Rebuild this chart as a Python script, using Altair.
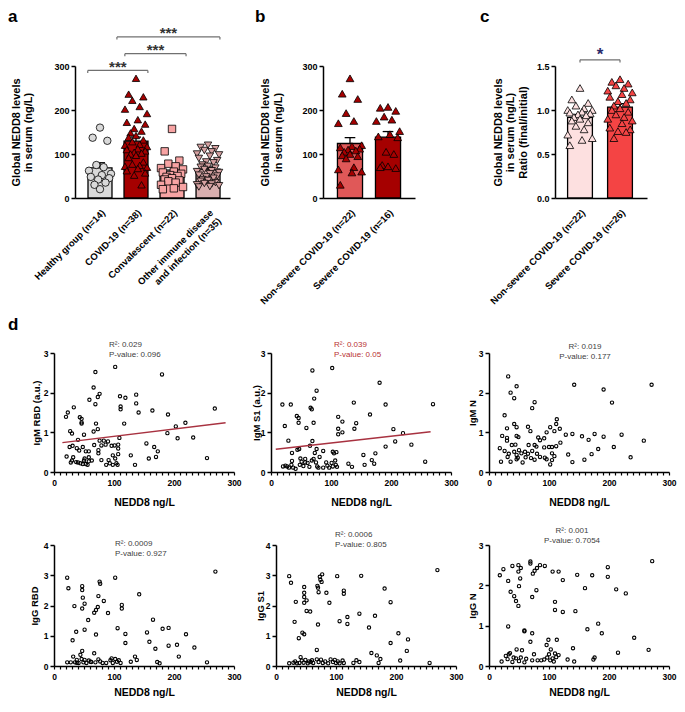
import json
import altair as alt
import pandas as pd

FONT = "Liberation Sans"

# ---------------- panel a : values (ng/L) ----------------
A_LABELS = ["Healthy group (n=14)", "COVID-19 (n=38)", "Convalescent (n=22)",
            ["Other immune disease", "and infection (n=35)"]]
A_HEALTHY = [160, 137, 130, 75, 70, 62, 55, 52, 48, 45, 42, 35, 30, 20]
A_COVID = [272, 236, 230, 222, 208, 202, 192, 178, 172, 168, 158, 152, 148, 142, 138, 132,
           128, 122, 120, 117, 112, 110, 107, 104, 102, 100, 97, 92, 82, 77, 74, 72, 70, 67,
           62, 57, 52, 30]
A_CONV = [157, 106, 85, 78, 72, 68, 65, 60, 58, 55, 52, 50, 48, 45, 42, 40, 38, 35, 30, 25, 22, 20]
A_OTHER = [120, 115, 112, 108, 105, 100, 98, 95, 90, 85, 82, 80, 75, 72, 70, 68, 65, 62, 60, 58,
           55, 52, 50, 48, 45, 42, 40, 38, 35, 33, 32, 30, 28, 26, 25]
# significance brackets: (from, to, level, label)
A_SIG = [(-0.34, 1.33, 290, "***"), (0.69, 2.39, 328, "***"), (0.47, 3.33, 366, "***")]

# ---------------- panel b ----------------
B_LABELS = ["Non-severe COVID-19 (n=22)", "Severe COVID-19 (n=16)"]
B_NONSEVERE = [272, 237, 225, 193, 175, 170, 120, 118, 115, 112, 110, 108, 105, 100, 97, 95,
               90, 70, 65, 60, 58, 30]
B_SEVERE = [207, 205, 198, 185, 178, 175, 152, 145, 140, 138, 105, 100, 75, 72, 70, 68]

# ---------------- panel c (ratio final/initial) ----------------
C_LABELS = ["Non-severe COVID-19 (n=22)", "Severe COVID-19 (n=26)"]
C_NONSEVERE = [1.25, 1.12, 1.08, 1.05, 1.02, 1.0, 1.0, 0.98, 0.97, 0.96, 0.95, 0.94, 0.92, 0.9,
               0.88, 0.86, 0.82, 0.78, 0.72, 0.68, 0.66, 0.60]
C_SEVERE = [1.35, 1.32, 1.3, 1.28, 1.25, 1.22, 1.2, 1.18, 1.15, 1.12, 1.1, 1.08, 1.05, 1.02, 1.0,
            0.98, 0.95, 0.92, 0.9, 0.88, 0.85, 0.8, 0.78, 0.76, 0.75, 0.68]
C_SIG = [(0, 1, 1.57, "*")]

# ---------------- panel d : scatter data (NEDD8 ng/L vs antibody) ----------------
D1_X = [102, 180, 69, 66, 76, 73, 110, 119, 137, 137, 69, 59, 111, 111, 33, 23, 20, 141, 164, 268,
        190, 43, 46, 46, 46, 117, 70, 219, 27, 30, 66, 73, 189, 203, 206, 232, 50, 40, 109, 76,
        83, 90, 31, 38, 42, 48, 53, 58, 67, 74, 74, 79, 86, 96, 101, 107, 107, 107, 98, 154,
        167, 173, 21, 32, 30, 28, 37, 44, 51, 50, 48, 53, 58, 58, 56, 63, 79, 87, 91, 93,
        98, 102, 104, 106, 128, 135, 158, 170, 255, 40, 26]
D1_Y = [2.65, 2.46, 2.52, 2.13, 1.97, 1.89, 1.91, 1.87, 1.95, 1.73, 1.71, 1.82, 1.65, 1.58, 1.63,
        1.50, 1.39, 1.50, 1.55, 1.60, 1.45, 1.38, 1.34, 1.25, 1.22, 1.22, 1.22, 1.24, 1.03, 0.97,
        1.02, 1.08, 0.98, 1.15, 0.85, 0.87, 0.94, 0.81, 0.86, 0.79, 0.79, 0.77, 0.66, 0.60, 0.54,
        0.63, 0.52, 0.52, 0.68, 0.55, 0.47, 0.67, 0.69, 0.66, 0.67, 0.69, 0.59, 0.45, 0.42, 0.72,
        0.63, 0.52, 0.39, 0.37, 0.29, 0.24, 0.25, 0.22, 0.34, 0.29, 0.20, 0.20, 0.37, 0.27, 0.18,
        0.29, 0.30, 0.18, 0.30, 0.22, 0.18, 0.34, 0.22, 0.18, 0.42, 0.18, 0.34, 0.38, 0.35, 0.24,
        0.63]

D2_X = [102, 69, 181, 76, 72, 19, 33, 270, 138, 191, 66, 68, 43, 46, 46, 71, 112, 119, 142, 165,
        23, 59, 112, 119, 112, 139, 204, 220, 207, 191, 234, 29, 69, 35, 44, 47, 65, 73, 76, 87,
        103, 105, 109, 154, 174, 20, 27, 30, 34, 37, 41, 49, 51, 48, 54, 57, 57, 61, 64, 68,
        71, 75, 77, 81, 79, 87, 92, 94, 97, 101, 103, 107, 108, 110, 129, 135, 156, 168, 172, 257,
        24, 35]
D2_Y = [2.62, 2.56, 2.25, 2.05, 1.85, 1.70, 1.70, 1.71, 1.75, 1.70, 1.62, 1.58, 1.41, 1.36, 1.24,
        1.24, 1.39, 1.27, 1.23, 1.45, 1.16, 1.11, 1.09, 1.00, 0.95, 1.09, 1.08, 0.98, 0.77, 0.64,
        0.69, 0.79, 0.78, 0.48, 0.56, 0.58, 0.66, 0.48, 0.58, 0.53, 0.51, 0.47, 0.50, 0.43, 0.47,
        0.14, 0.14, 0.11, 0.18, 0.11, 0.08, 0.34, 0.26, 0.18, 0.15, 0.24, 0.33, 0.23, 0.13, 0.29,
        0.33, 0.24, 0.14, 0.38, 0.11, 0.11, 0.24, 0.16, 0.11, 0.23, 0.14, 0.29, 0.18, 0.13, 0.21,
        0.13, 0.18, 0.30, 0.21, 0.26, 0.16, 0.28]

D3_X = [32, 46, 142, 271, 191, 36, 42, 205, 76, 72, 26, 113, 112, 118, 102, 109, 42, 46, 65, 69,
        30, 96, 22, 30, 46, 49, 82, 85, 92, 128, 139, 155, 176, 166, 191, 221, 258, 30, 18, 26,
        38, 44, 50, 54, 60, 65, 66, 72, 76, 79, 80, 92, 100, 105, 105, 112, 119, 132, 171, 182,
        208, 236, 20, 31, 36, 46, 48, 56, 61, 70, 76, 85, 93, 96, 102, 105, 109, 139, 159, 46,
        33, 42]
D3_Y = [2.41, 2.16, 2.20, 2.20, 2.08, 2.00, 1.86, 1.75, 1.76, 1.61, 1.43, 1.33, 1.21, 1.09, 1.13,
        1.03, 1.21, 1.13, 1.14, 1.03, 1.10, 1.00, 0.91, 0.86, 0.91, 0.88, 0.87, 0.80, 0.85, 0.94,
        0.96, 0.90, 0.96, 0.81, 0.89, 0.94, 0.79, 0.79, 0.60, 0.53, 0.68, 0.69, 0.55, 0.47, 0.51,
        0.46, 0.68, 0.53, 0.68, 0.64, 0.46, 0.62, 0.63, 0.63, 0.47, 0.65, 0.74, 0.44, 0.45, 0.58,
        0.63, 0.37, 0.26, 0.38, 0.26, 0.32, 0.36, 0.24, 0.37, 0.35, 0.31, 0.38, 0.36, 0.32, 0.19,
        0.30, 0.40, 0.25, 0.31, 0.43, 0.46, 0.51]

D4_X = [22, 102, 24, 47, 47, 76, 77, 269, 34, 48, 47, 51, 74, 73, 70, 67, 83, 90, 113, 113,
        142, 70, 57, 51, 37, 31, 106, 119, 119, 155, 165, 159, 169, 181, 191, 191, 205, 220, 208, 234,
        22, 28, 32, 35, 38, 41, 44, 46, 47, 49, 51, 54, 58, 61, 67, 69, 74, 77, 81, 87,
        94, 96, 98, 102, 105, 108, 111, 128, 135, 138, 172, 176, 255, 38, 62]
D4_Y = [2.92, 2.92, 2.57, 2.64, 2.51, 2.79, 2.72, 3.12, 1.98, 2.26, 1.90, 2.06, 2.31, 1.95, 1.85,
        1.76, 2.15, 1.75, 2.02, 1.90, 2.37, 1.04, 1.52, 1.20, 1.13, 0.85, 1.25, 1.06, 0.76, 1.11,
        1.53, 0.80, 0.57, 1.23, 1.26, 0.67, 0.70, 1.05, 0.31, 0.61, 0.12, 0.12, 0.31, 0.12, 0.20,
        0.10, 0.37, 0.23, 0.50, 0.12, 0.20, 0.10, 0.18, 0.14, 0.42, 0.12, 0.22, 0.15, 0.10, 0.10,
        0.19, 0.25, 0.10, 0.23, 0.14, 0.19, 0.10, 0.14, 0.31, 0.20, 0.13, 0.09, 0.12, 0.11, 0.13]

D5_X = [22, 25, 102, 142, 269, 73, 74, 77, 76, 69, 71, 70, 47, 47, 47, 47, 51, 33, 84, 89,
        113, 113, 181, 191, 51, 57, 31, 70, 106, 119, 119, 139, 165, 155, 204, 220, 191, 44, 47, 38,
        218, 68, 159, 168, 174, 171, 207, 256, 22, 29, 32, 35, 41, 43, 46, 49, 53, 55, 58, 62,
        68, 71, 75, 78, 82, 87, 91, 95, 98, 100, 103, 106, 111, 113, 129, 134, 139, 39, 60]
D5_Y = [2.97, 2.75, 2.97, 2.98, 3.17, 2.95, 2.85, 3.03, 2.78, 2.65, 2.44, 2.59, 2.61, 2.42, 2.28,
        2.09, 2.17, 2.12, 2.42, 2.09, 2.49, 2.39, 2.56, 2.11, 1.82, 1.80, 1.46, 1.37, 1.48, 1.62,
        1.39, 1.73, 1.66, 1.27, 1.08, 0.88, 0.76, 1.10, 1.05, 0.92, 0.50, 0.53, 0.43, 0.35, 0.23,
        0.10, 0.18, 0.10, 0.09, 0.11, 0.15, 0.09, 0.29, 0.18, 0.11, 0.20, 0.09, 0.15, 0.13, 0.10,
        0.22, 0.13, 0.21, 0.10, 0.15, 0.09, 0.22, 0.13, 0.20, 0.10, 0.15, 0.09, 0.18, 0.10, 0.10,
        0.19, 0.13, 0.10, 0.19]

D6_X = [18, 24, 39, 32, 36, 42, 45, 49, 50, 49, 53, 49, 52, 69, 69, 73, 76, 80, 85, 93,
        79, 72, 106, 116, 123, 147, 172, 198, 198, 160, 212, 228, 272, 110, 110, 123, 144, 32, 59, 59,
        72, 69, 99, 113, 96, 103, 182, 164, 188, 242, 215, 266, 140, 21, 28, 33, 35, 31, 39, 45,
        46, 50, 53, 55, 59, 62, 72, 75, 81, 87, 92, 97, 100, 102, 106, 108, 110, 112, 116, 131,
        142, 174, 176, 41]
D6_Y = [2.25, 2.40, 2.48, 2.11, 1.84, 1.73, 1.61, 1.49, 1.98, 2.50, 2.43, 2.34, 2.17, 2.59, 2.54,
        2.29, 2.36, 2.43, 2.50, 2.48, 1.88, 1.71, 2.34, 2.34, 2.13, 2.26, 2.25, 2.45, 2.21, 1.93,
        1.90, 1.80, 2.60, 1.59, 1.39, 1.34, 1.36, 0.98, 0.88, 0.86, 0.81, 0.60, 0.65, 0.65, 0.52,
        0.41, 1.05, 0.91, 0.81, 0.70, 0.33, 0.40, 0.44, 0.11, 0.25, 0.29, 0.32, 0.17, 0.10, 0.19,
        0.41, 0.12, 0.21, 0.39, 0.09, 0.18, 0.14, 0.29, 0.14, 0.14, 0.16, 0.21, 0.29, 0.14, 0.19,
        0.11, 0.31, 0.22, 0.27, 0.16, 0.11, 0.16, 0.21, 0.21]

ONE = pd.DataFrame({"k": [0]})
PATTERN = [0.0, -0.6, 0.6, -0.3, 0.3, -0.9, 0.9, 0.15, -0.75, 0.75, -0.15, 0.45, -0.45]

# grid of layout cells (figure pixels): column edges and row edges
COLS = [0, 236, 456, 669]
ROWS = [0, 301, 507, 691]


def geom(col, row, plot):
    px, py, w, h = plot
    cx, cy = COLS[col], ROWS[row]
    return dict(W=COLS[col + 1] - cx, H=ROWS[row + 1] - cy, ox=px - cx, oy=py - cy, w=w, h=h)


def category_frame(groups, spread):
    rows = []
    for gi, vals in enumerate(groups):
        order = sorted(range(len(vals)), key=lambda k: -vals[k])
        for r, k in enumerate(order):
            rows.append({"idx": gi, "value": vals[k],
                         "xj": gi + PATTERN[r % len(PATTERN)] * spread})
    return pd.DataFrame(rows)


def letter(ch, x, y):
    return alt.Chart(ONE).mark_text(text=ch, fontSize=17, fontWeight="bold", align="left",
                                    baseline="middle", color="black").encode(
        x=alt.value(x), y=alt.value(y))


def bar_panel(groups, labels, bar_fill, pt_fill, shapes, pt_size, half, xdom, ydom, yticks,
              yfmt, ytitle, title_dx, sig, cap, star_size, star_color, star_dy,
              letter_ch, letter_f, g):
    ox, oy, w, h, W, H = g["ox"], g["oy"], g["w"], g["h"], g["W"], g["H"]
    idxs = list(range(len(groups)))
    df = category_frame(groups, 0.34)
    xs = alt.Scale(domain=xdom, range=[ox, ox + w], nice=False, zero=False)
    ys = alt.Scale(domain=ydom, range=[oy + h, oy], nice=False, zero=False)
    xaxis = alt.Axis(values=idxs, labelExpr=json.dumps(labels) + "[datum.value]",
                     ticks=False, tickSize=0, title=None, labelAngle=-45, labelAlign="right",
                     labelBaseline="middle", labelPadding=13, labelOffset=3,
                     labelFontSize=9.5, labelFontWeight="bold", labelOverlap=False,
                     labelFlush=False, labelLineHeight=11.5, domainWidth=1.5, grid=False,
                     offset=-(H - oy - h))
    yaxis = alt.Axis(values=yticks, format=yfmt, tickSize=4, tickWidth=1.5, labelPadding=2,
                     labelFontSize=9, labelFontWeight="bold", labelFlush=False,
                     title=ytitle, titleFontSize=11, titleFontWeight="bold",
                     titleLineHeight=12.5, titleAngle=-90, titleX=title_dx, titleY=oy + h / 2,
                     titleAlign="center", titleBaseline="middle", domainWidth=1.5, grid=False,
                     offset=-ox)

    def X(f):
        return alt.X(f, scale=xs, axis=xaxis)

    def Y(f):
        return alt.Y(f, scale=ys, axis=yaxis)

    agg = alt.Chart(df).transform_aggregate(
        m="mean(value)", se="stderr(value)", groupby=["idx"]
    ).transform_calculate(
        xl=f"datum.idx - {half}", xr=f"datum.idx + {half}",
        cl="datum.idx - 0.14", cr="datum.idx + 0.14", up="datum.m + datum.se", zero="0",
        bf=json.dumps(bar_fill) + "[datum.idx]")
    bars = agg.mark_rect(stroke="black", strokeWidth=1.3).encode(
        x=X("xl:Q"), x2="xr:Q", y=Y("m:Q"), y2="zero:Q", fill=alt.Fill("bf:N", scale=None))
    err = agg.mark_rule(color="black", strokeWidth=1.3).encode(x=X("idx:Q"), y=Y("m:Q"), y2="up:Q")
    errcap = agg.mark_rule(color="black", strokeWidth=1.3).encode(
        x=X("cl:Q"), x2="cr:Q", y=Y("up:Q"))
    pts = alt.Chart(df).transform_calculate(
        pf=json.dumps(pt_fill) + "[datum.idx]", sh=json.dumps(shapes) + "[datum.idx]"
    ).mark_point(filled=True, stroke="black", strokeWidth=0.8, size=pt_size, opacity=1).encode(
        x=X("xj:Q"), y=Y("value:Q"),
        fill=alt.Fill("pf:N", scale=None), shape=alt.Shape("sh:N", scale=None))
    layers = [bars, err, errcap, pts]
    if sig:
        sdf = pd.DataFrame(sig, columns=["xa", "xb", "lev", "label"])
        sb = alt.Chart(sdf).transform_calculate(
            xm="(datum.xa + datum.xb) / 2", yc=f"datum.lev - {cap}")
        layers += [
            sb.mark_rule(color="#707070", strokeWidth=1.2).encode(x=X("xa:Q"), x2="xb:Q", y=Y("lev:Q")),
            sb.mark_rule(color="#707070", strokeWidth=1.2).encode(x=X("xa:Q"), y=Y("lev:Q"), y2="yc:Q"),
            sb.mark_rule(color="#707070", strokeWidth=1.2).encode(x=X("xb:Q"), y=Y("lev:Q"), y2="yc:Q"),
            sb.mark_text(fontSize=star_size, fontWeight="bold", color=star_color,
                         baseline="alphabetic", dy=star_dy).encode(
                x=X("xm:Q"), y=Y("lev:Q"), text="label:N"),
        ]
    layers.append(letter(letter_ch, letter_f[0], letter_f[1]))
    return alt.layer(*layers).properties(width=W, height=H)


def scatter_panel(xv, yv, ymax, ytitle, title_dx, xtitle_dy, ann, ann_color, ann_xy, ann_align,
                  fit, g, letter_ch=None, letter_f=None):
    ox, oy, w, h, W, H = g["ox"], g["oy"], g["w"], g["h"], g["W"], g["H"]
    df = pd.DataFrame({"x": xv, "y": yv})
    xs = alt.Scale(domain=[0, 300], range=[ox, ox + w], nice=False, zero=False)
    ys = alt.Scale(domain=[0, ymax], range=[oy + h, oy], nice=False, zero=False)
    xaxis = alt.Axis(values=list(range(0, 301, 10)),
                     labelExpr="datum.value % 100 === 0 ? datum.label : ''",
                     tickSize=3, tickWidth=1.2, labelPadding=3, labelFontSize=8.5,
                     labelFontWeight="bold", labelOverlap=False, labelFlush=False,
                     title="NEDD8 ng/L", titleFontSize=10.5, titleFontWeight="bold",
                     titleX=ox + w / 2, titleY=xtitle_dy, titleAlign="center",
                     titleBaseline="middle", domainWidth=1.5, grid=False,
                     offset=-(H - oy - h))
    yaxis = alt.Axis(values=list(range(0, ymax + 1)), tickSize=4, tickWidth=1.5, labelPadding=2,
                     labelFontSize=8.5, labelFontWeight="bold", labelFlush=False,
                     title=ytitle, titleFontSize=9.5, titleFontWeight="bold", titleAngle=-90,
                     titleX=title_dx, titleY=oy + h / 2, titleAlign="center",
                     titleBaseline="middle", domainWidth=1.5, grid=False, offset=-ox)
    enc = dict(x=alt.X("x:Q", scale=xs, axis=xaxis), y=alt.Y("y:Q", scale=ys, axis=yaxis))
    pts = alt.Chart(df).mark_point(shape="circle", filled=False, color="black", strokeWidth=1.1,
                                   size=11, opacity=1).encode(**enc)
    layers = [pts]
    if fit:
        layers.append(alt.Chart(df).transform_regression("x", "y", extent=fit).mark_line(
            color="#a83240", strokeWidth=1.5).encode(**enc))
    layers.append(alt.Chart(ONE).mark_text(text=ann, fontSize=8, color=ann_color, align=ann_align,
                                           baseline="middle", lineHeight=10).encode(
        x=alt.value(ox + ann_xy[0]), y=alt.value(oy + ann_xy[1])))
    if letter_ch:
        layers.append(letter(letter_ch, letter_f[0], letter_f[1]))
    return alt.layer(*layers).properties(width=W, height=H)


ga = geom(0, 0, (67, 58, 155, 132))
gb = geom(1, 0, (315, 58, 92, 132))
gc = geom(2, 0, (547, 58, 92, 132))

pa = bar_panel([A_HEALTHY, A_COVID, A_CONV, A_OTHER], A_LABELS,
               ["#d9d9d9", "#a50000", "#f7a3a3", "#d9afaf"],
               ["#d9d9d9", "#a50000", "#f7a3a3", "#d6a2a2"],
               ["circle", "triangle-up", "square", "triangle-down"], 55, 0.333,
               [-0.694, 3.61], [0, 300], [0, 100, 200, 300], "d",
               ["Global NEDD8 levels", "in serum (ng/L)"], -58.7,
               A_SIG, 6, 15, "#333333", 1.5, "a", (0, 9), ga)

pb = bar_panel([B_NONSEVERE, B_SEVERE], B_LABELS,
               ["#e05858", "#a50000"], ["#a50000", "#a50000"],
               ["triangle-up", "triangle-up"], 60, 0.33,
               [-0.71, 1.71], [0, 300], [0, 100, 200, 300], "d",
               ["Global NEDD8 levels", "in serum (ng/L)"], -57.3,
               [], 0, 15, "#333333", 0, "b", (247 - COLS[1], 9), gb)

pc = bar_panel([C_NONSEVERE, C_SEVERE], C_LABELS,
               ["#fde0e0", "#f44444"], ["#fde0e0", "#f44444"],
               ["triangle-up", "triangle-up"], 60, 0.31,
               [-0.625, 1.675], [0, 1.5], [0, 0.5, 1.0, 1.5], ".1f",
               ["Global NEDD8 levels", "in serum (ng/L)", "Ratio (final/initial)"], -57,
               C_SIG, 0.03, 17, "#2b2b6b", 0, "c", (472 - COLS[2], 9), gc)

d1 = scatter_panel(D1_X, D1_Y, 3, "IgM RBD (a.u.)", -18, 30, ["R²: 0.029", "P-value: 0.096"],
                   "#404040", (55, -8.5), "left", [14, 286],
                   geom(0, 1, (46, 345, 180, 119)), "d", (0, 317 - ROWS[1]))
d2 = scatter_panel(D2_X, D2_Y, 3, "IgM S1 (a.u.)", -15, 30, ["R²: 0.039", "P-value: 0.05"],
                   "#b83232", (63, -8.5), "left", [8, 266],
                   geom(1, 1, (263, 345, 180, 119)))
d3 = scatter_panel(D3_X, D3_Y, 3, "IgM N", -17, 30, ["R²:  0.019", "P-value: 0.177"],
                   "#404040", (96, -6), "center", None,
                   geom(2, 1, (481, 345, 180, 119)))
d4 = scatter_panel(D4_X, D4_Y, 4, "IgG RBD", -20, 26, ["R²: 0.0009", "P-value: 0.927"],
                   "#404040", (61, -1), "left", None,
                   geom(0, 2, (46, 537, 180, 121)))
d5 = scatter_panel(D5_X, D5_Y, 4, "IgG S1", -16, 26, ["R²: 0.0006", "P-value: 0.805"],
                   "#404040", (59, -10.3), "left", None,
                   geom(1, 2, (268, 537, 180, 121)))
d6 = scatter_panel(D6_X, D6_Y, 3, "IgG N", -17, 26, ["R²: 0.001", "P-value: 0.7054"],
                   "#404040", (83, -14), "center", None,
                   geom(2, 2, (481, 537, 180, 121)))

chart = alt.concat(pa, pb, pc, d1, d2, d3, d4, d5, d6, columns=3, spacing=0,
                   bounds="flush", align="each").properties(padding=0).configure(
    font=FONT
).configure_view(stroke=None).configure_axis(
    domainColor="black", tickColor="black", labelColor="black", titleColor="black", grid=False
)

chart.save("out.html", embed_options={"renderer": "svg", "actions": False})
